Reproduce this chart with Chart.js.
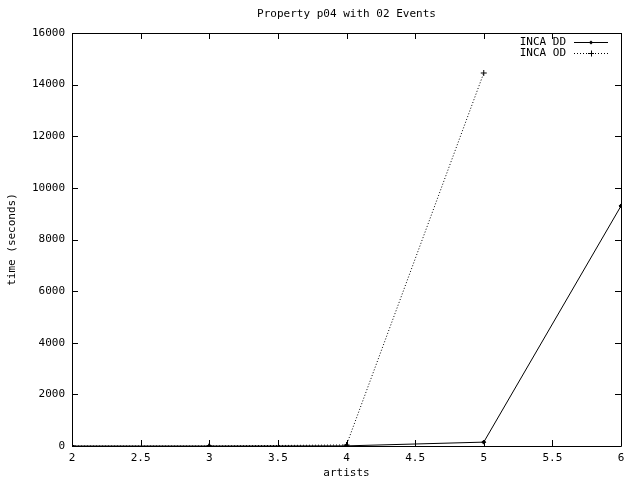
<!DOCTYPE html>
<html>
<head>
<meta charset="utf-8">
<script src="https://cdn.jsdelivr.net/npm/chart.js@4"></script>
<style>
  html, body { margin: 0; padding: 0; background: #fff; }
  #wrap { width: 640px; height: 480px; }
</style>
</head>
<body>
<div id="wrap"><canvas id="c" width="640" height="480"></canvas></div>
<script>
// values
const artists = [2, 3, 4, 5, 6];
const incaDD = [0, 0, 5, 150, 9300];
const artistsOD = [2, 3, 4, 5];
const incaOD = [0, 0, 40, 14450];
const xTicks = [2, 2.5, 3, 3.5, 4, 4.5, 5, 5.5, 6];
const yTicks = [0, 2000, 4000, 6000, 8000, 10000, 12000, 14000, 16000];

const FONT = "'DejaVu Sans Mono', monospace";
const legendItems = ["INCA DD", "INCA OD"];

// gnuplot style frame: box round the plot, ticks pointing inwards on all four sides
const framePlugin = {
  id: "frame",
  afterDraw(chart) {
    const ctx = chart.ctx;
    const a = chart.chartArea;
    const xs = chart.scales.x;
    const ys = chart.scales.y;
    ctx.save();
    ctx.strokeStyle = "#000";
    ctx.lineWidth = 1;
    ctx.beginPath();
    ctx.rect(Math.round(a.left) + 0.5, Math.round(a.top) + 0.5,
      Math.round(a.right - a.left), Math.round(a.bottom - a.top));
    xTicks.forEach((v) => {
      const px = Math.round(xs.getPixelForValue(v)) + 0.5;
      ctx.moveTo(px, a.bottom);
      ctx.lineTo(px, a.bottom - 6);
      ctx.moveTo(px, a.top);
      ctx.lineTo(px, a.top + 6);
    });
    yTicks.forEach((v) => {
      const py = Math.round(ys.getPixelForValue(v)) + 0.5;
      ctx.moveTo(a.left, py);
      ctx.lineTo(a.left + 6, py);
      ctx.moveTo(a.right, py);
      ctx.lineTo(a.right - 6, py);
    });
    ctx.stroke();

    // legend: text on the left, line sample on the right
    ctx.font = "11px " + FONT;
    ctx.fillStyle = "#000";
    ctx.textAlign = "right";
    ctx.textBaseline = "middle";
    legendItems.forEach((label, i) => {
      const y = 42 + i * 11 + 0.5;
      ctx.fillText(label, 566, y);
      const ds = chart.data.datasets[i];
      ctx.beginPath();
      ctx.setLineDash(ds.borderDash || []);
      ctx.moveTo(574, y);
      ctx.lineTo(608, y);
      ctx.stroke();
      ctx.setLineDash([]);
      ctx.beginPath();
      if (i === 0) {
        ctx.moveTo(591, y - 2);
        ctx.lineTo(593, y);
        ctx.lineTo(591, y + 2);
        ctx.lineTo(589, y);
        ctx.closePath();
        ctx.fill();
      } else {
        ctx.moveTo(588, y);
        ctx.lineTo(594, y);
        ctx.moveTo(591.5, y - 3);
        ctx.lineTo(591.5, y + 3);
        ctx.stroke();
      }
    });
    ctx.restore();
  },
};

new Chart(document.getElementById("c"), {
  type: "line",
  data: {
    datasets: [
      {
        label: legendItems[0],
        data: artists.map((x, i) => ({ x, y: incaDD[i] })),
        borderColor: "#000",
        backgroundColor: "#000",
        borderWidth: 1,
        pointStyle: "rectRot",
        pointRadius: 2,
        pointBorderWidth: 1,
        tension: 0,
      },
      {
        label: legendItems[1],
        data: artistsOD.map((x, i) => ({ x, y: incaOD[i] })),
        borderColor: "#000",
        backgroundColor: "#000",
        borderWidth: 1,
        borderDash: [1, 2],
        pointStyle: "cross",
        pointRadius: 3,
        pointBorderWidth: 1,
        tension: 0,
      },
    ],
  },
  plugins: [framePlugin],
  options: {
    responsive: false,
    animation: false,
    devicePixelRatio: 1,
    layout: { padding: { left: 0, right: 19, top: 0, bottom: 0 } },
    plugins: {
      legend: { display: false },
      tooltip: { enabled: false },
      title: {
        display: true,
        text: "Property p04 with 02 Events",
        fullSize: false,
        color: "#000",
        font: { family: FONT, size: 11, weight: "normal", lineHeight: 1.2 },
        padding: { top: 8, bottom: 11.8 },
      },
    },
    scales: {
      x: {
        type: "linear",
        min: 2,
        max: 6,
        afterBuildTicks: (s) => { s.ticks = xTicks.map((v) => ({ value: v })); },
        afterFit: (s) => { s.height = 34; },
        grid: { display: false, drawTicks: false },
        border: { display: false },
        ticks: {
          color: "#000",
          padding: 6,
          maxRotation: 0,
          font: { family: FONT, size: 11 },
          callback: (v) => String(v),
        },
        title: {
          display: true,
          text: "artists",
          color: "#000",
          padding: { top: 7, bottom: 0 },
          font: { family: FONT, size: 11 },
        },
      },
      y: {
        min: 0,
        max: 16000,
        afterBuildTicks: (s) => { s.ticks = yTicks.map((v) => ({ value: v })); },
        afterFit: (s) => { s.width = 72; },
        grid: { display: false, drawTicks: false },
        border: { display: false },
        ticks: {
          color: "#000",
          padding: 7,
          font: { family: FONT, size: 11 },
          callback: (v) => String(v),
        },
        title: {
          display: true,
          text: "time (seconds)",
          color: "#000",
          padding: { top: 6, bottom: 0 },
          font: { family: FONT, size: 11 },
        },
      },
    },
  },
});
</script>
</body>
</html>
